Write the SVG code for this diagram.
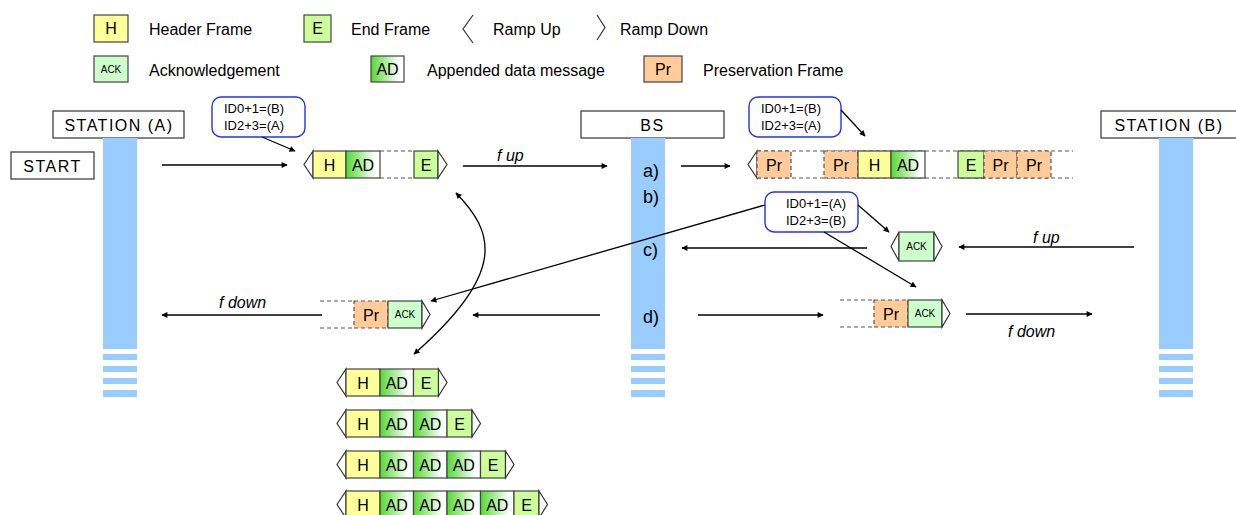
<svg xmlns="http://www.w3.org/2000/svg" width="1236" height="515" viewBox="0 0 1236 515">
<style>
text{font-family:"Liberation Sans",Arial,sans-serif;fill:#000}
.lg{font-size:16px}
.lbl{font-size:16px;text-anchor:middle}
.st{font-size:16px;text-anchor:middle;letter-spacing:1.5px}
.ct{font-size:16px;text-anchor:middle}
.ck{font-size:10px;text-anchor:middle}
.co{font-size:13px;font-family:Arial,"Liberation Sans",sans-serif}
.f{font-size:16px;font-style:italic}
.ab{font-size:18px}
.box{fill:#fff;stroke:#333;stroke-width:1.2}
.bar{fill:#99ccff}
.h{fill:#ffff99;stroke:#444;stroke-width:1.2}
.ad{fill:url(#adg);stroke:#444;stroke-width:1.2}
.e{fill:#ccff99;stroke:#444;stroke-width:1.2}
.ack{fill:#ccffcc;stroke:#444;stroke-width:1.2}
.pr{fill:#ffcc99;stroke:#555;stroke-width:1.2;stroke-dasharray:4 3}
.prl{fill:#ffcc99;stroke:#444;stroke-width:1.2}
.dl{fill:none;stroke:#555;stroke-width:1.2;stroke-dasharray:4 3}
.ramp{fill:#fff;stroke:#333;stroke-width:1.2}
.rl{fill:none;stroke:#333;stroke-width:1.2}
.cb{fill:#fff;stroke:#2233ee;stroke-width:1.4}
.cn{fill:none;stroke:#000;stroke-width:1.3;marker-end:url(#ah)}
</style>
<defs>
<linearGradient id="adg" x1="0" y1="0" x2="1" y2="0">
<stop offset="0" stop-color="#55d833"/>
<stop offset="0.85" stop-color="#ffffff"/>
</linearGradient>
<marker id="ah" viewBox="0 0 10 10" refX="9" refY="5" markerWidth="7" markerHeight="6" orient="auto" markerUnits="userSpaceOnUse">
<path d="M0,0 L10,5 L0,10 z" fill="#000"/>
</marker>
<marker id="as" viewBox="0 0 10 10" refX="1" refY="5" markerWidth="7" markerHeight="6" orient="auto" markerUnits="userSpaceOnUse">
<path d="M10,0 L0,5 L10,10 z" fill="#000"/>
</marker>
</defs>

<g id="legend">
<rect class="h" x="94" y="15" width="34" height="27"/><text class="ct" x="111" y="34">H</text>
<text class="lg" x="149" y="35">Header Frame</text>
<rect class="e" x="304" y="15" width="27" height="27"/><text class="ct" x="317.5" y="34">E</text>
<text class="lg" x="351" y="35">End Frame</text>
<polyline class="rl" points="473,15 463,29 473,43"/>
<text class="lg" x="493" y="35">Ramp Up</text>
<polyline class="rl" points="597,15 605,27.5 597,40"/>
<text class="lg" x="620" y="35">Ramp Down</text>
<rect class="ack" x="94" y="56" width="34" height="26"/><text class="ck" x="111" y="73">ACK</text>
<text class="lg" x="149" y="76">Acknowledgement</text>
<rect class="ad" x="371" y="56" width="33" height="26"/><text class="ct" x="387.5" y="75">AD</text>
<text class="lg" x="427" y="76">Appended data message</text>
<rect class="prl" x="644" y="56" width="38" height="26"/><text class="ct" x="663" y="75">Pr</text>
<text class="lg" x="703" y="76">Preservation Frame</text>
</g>

<g id="stationA">
<rect class="box" x="53" y="111" width="131" height="27"/>
<text class="st" x="119" y="131">STATION (A)</text>
<rect class="bar" x="103" y="138" width="34" height="211"/>
<rect class="bar" x="103" y="354" width="34" height="6"/>
<rect class="bar" x="103" y="366" width="34" height="6"/>
<rect class="bar" x="103" y="378" width="34" height="6"/>
<rect class="bar" x="103" y="390" width="34" height="7"/>
</g>
<g id="start">
<rect class="box" x="11" y="152" width="83" height="27"/>
<text class="st" x="52.5" y="172">START</text>
</g>
<g id="stationBS">
<rect class="box" x="581" y="111" width="143" height="27"/>
<text class="st" x="652.5" y="131">BS</text>
<rect class="bar" x="631" y="138" width="34" height="211"/>
<rect class="bar" x="631" y="354" width="34" height="6"/>
<rect class="bar" x="631" y="366" width="34" height="6"/>
<rect class="bar" x="631" y="378" width="34" height="6"/>
<rect class="bar" x="631" y="390" width="34" height="7"/>
<text class="ab" x="643" y="177">a)</text>
<text class="ab" x="643" y="203">b)</text>
<text class="ab" x="643" y="256">c)</text>
<text class="ab" x="643" y="323">d)</text>
</g>
<g id="stationB">
<rect class="box" x="1101" y="111" width="140" height="27"/>
<text class="st" x="1169" y="131">STATION (B)</text>
<rect class="bar" x="1159" y="138" width="34" height="211"/>
<rect class="bar" x="1159" y="354" width="34" height="6"/>
<rect class="bar" x="1159" y="366" width="34" height="6"/>
<rect class="bar" x="1159" y="378" width="34" height="6"/>
<rect class="bar" x="1159" y="390" width="34" height="7"/>
</g>

<g id="callout1">
<rect class="cb" x="212" y="97" width="93" height="40" rx="9"/>
<text class="co" x="224" y="113">ID0+1=(B)</text>
<text class="co" x="224" y="130">ID2+3=(A)</text>
</g>
<g id="callout2">
<rect class="cb" x="749" y="97" width="92" height="40" rx="9"/>
<text class="co" x="761" y="113">ID0+1=(B)</text>
<text class="co" x="761" y="130">ID2+3=(A)</text>
</g>

<g id="frame1">
<polygon class="ramp" points="313,151 304,164.5 313,178"/>
<rect class="h" x="313" y="151" width="33" height="27"/><text class="ct" x="329.5" y="171">H</text>
<rect class="ad" x="346" y="151" width="34" height="27"/><text class="ct" x="363" y="171">AD</text>
<line class="dl" x1="380" y1="151" x2="414" y2="151"/><line class="dl" x1="380" y1="178" x2="414" y2="178"/>
<rect class="e" x="414" y="151" width="24" height="27"/><text class="ct" x="426" y="171">E</text>
<polygon class="ramp" points="438,151 447,164.5 438,178"/>
</g>

<g id="frame2">
<line class="dl" x1="757" y1="151" x2="1073" y2="151"/><line class="dl" x1="757" y1="178" x2="1073" y2="178"/>
<polygon class="ramp" points="757,151 748,164.5 757,178"/>
<rect class="pr" x="757" y="151" width="34" height="27"/><text class="ct" x="774" y="171">Pr</text>
<rect class="pr" x="824" y="151" width="34" height="27"/><text class="ct" x="841" y="171">Pr</text>
<rect class="h" x="858" y="151" width="33" height="27"/><text class="ct" x="874.5" y="171">H</text>
<rect class="ad" x="891" y="151" width="34" height="27"/><text class="ct" x="908" y="171">AD</text>
<rect class="e" x="958" y="151" width="26" height="27"/><text class="ct" x="971" y="171">E</text>
<rect class="pr" x="984" y="151" width="33" height="27"/><text class="ct" x="1000.5" y="171">Pr</text>
<rect class="pr" x="1017" y="151" width="34" height="27"/><text class="ct" x="1034" y="171">Pr</text>
</g>

<g id="callout3">
<rect class="cb" x="765" y="192" width="93" height="40" rx="9"/>
<text class="co" x="786" y="208">ID0+1=(A)</text>
<text class="co" x="786" y="225">ID2+3=(B)</text>
</g>

<g id="frameAck">
<polygon class="ramp" points="899,232 891,246.5 899,261"/>
<rect class="ack" x="899" y="232" width="35" height="29"/><text class="ck" x="916.5" y="250">ACK</text>
<polygon class="ramp" points="934,232 942,246.5 934,261"/>
</g>

<g id="frameDownB">
<line class="dl" x1="840" y1="300" x2="874" y2="300"/><line class="dl" x1="840" y1="327" x2="874" y2="327"/>
<rect class="pr" x="874" y="300" width="34" height="27"/><text class="ct" x="891" y="320">Pr</text>
<rect class="ack" x="908" y="300" width="34" height="27"/><text class="ck" x="925" y="317">ACK</text>
<polygon class="ramp" points="942,300 950,313.5 942,327"/>
</g>

<g id="frameDownA">
<line class="dl" x1="320" y1="301" x2="354" y2="301"/><line class="dl" x1="320" y1="328" x2="354" y2="328"/>
<rect class="pr" x="354" y="301" width="34" height="27"/><text class="ct" x="371" y="321">Pr</text>
<rect class="ack" x="388" y="301" width="34" height="27"/><text class="ck" x="405" y="318">ACK</text>
<polygon class="ramp" points="422,301 430,314.5 422,328"/>
</g>

<g id="frameRow1">
<polygon class="ramp" points="346,369 337,382.5 346,396"/>
<rect class="h" x="346" y="369" width="34" height="27"/><text class="ct" x="363" y="389">H</text>
<rect class="ad" x="380" y="369" width="33.5" height="27"/><text class="ct" x="396.75" y="389">AD</text>
<rect class="e" x="413.5" y="369" width="25" height="27"/><text class="ct" x="426" y="389">E</text>
<polygon class="ramp" points="438.5,369 447,382.5 438.5,396"/>
</g>
<g id="frameRow2">
<polygon class="ramp" points="346,410 337,423.5 346,437"/>
<rect class="h" x="346" y="410" width="34" height="27"/><text class="ct" x="363" y="430">H</text>
<rect class="ad" x="380" y="410" width="33.5" height="27"/><text class="ct" x="396.75" y="430">AD</text>
<rect class="ad" x="413.5" y="410" width="33.5" height="27"/><text class="ct" x="430.25" y="430">AD</text>
<rect class="e" x="447" y="410" width="25" height="27"/><text class="ct" x="459.5" y="430">E</text>
<polygon class="ramp" points="472,410 480.5,423.5 472,437"/>
</g>
<g id="frameRow3">
<polygon class="ramp" points="346,451 337,464.5 346,478"/>
<rect class="h" x="346" y="451" width="34" height="27"/><text class="ct" x="363" y="471">H</text>
<rect class="ad" x="380" y="451" width="33.5" height="27"/><text class="ct" x="396.75" y="471">AD</text>
<rect class="ad" x="413.5" y="451" width="33.5" height="27"/><text class="ct" x="430.25" y="471">AD</text>
<rect class="ad" x="447" y="451" width="33.5" height="27"/><text class="ct" x="463.75" y="471">AD</text>
<rect class="e" x="480.5" y="451" width="25" height="27"/><text class="ct" x="493" y="471">E</text>
<polygon class="ramp" points="505.5,451 514,464.5 505.5,478"/>
</g>
<g id="frameRow4">
<polygon class="ramp" points="346,491 337,504.5 346,518"/>
<rect class="h" x="346" y="491" width="34" height="27"/><text class="ct" x="363" y="511">H</text>
<rect class="ad" x="380" y="491" width="33.5" height="27"/><text class="ct" x="396.75" y="511">AD</text>
<rect class="ad" x="413.5" y="491" width="33.5" height="27"/><text class="ct" x="430.25" y="511">AD</text>
<rect class="ad" x="447" y="491" width="33.5" height="27"/><text class="ct" x="463.75" y="511">AD</text>
<rect class="ad" x="480.5" y="491" width="33.5" height="27"/><text class="ct" x="497.25" y="511">AD</text>
<rect class="e" x="514" y="491" width="25" height="27"/><text class="ct" x="526.5" y="511">E</text>
<polygon class="ramp" points="539,491 547.5,504.5 539,518"/>
</g>

<g id="connectors">
<line class="cn" x1="162" y1="165" x2="287" y2="165"/>
<line class="cn" x1="262" y1="137" x2="295" y2="151"/>
<line class="cn" x1="463" y1="166" x2="607" y2="166"/>
<text class="f" x="497" y="161">f up</text>
<line class="cn" x1="681" y1="166" x2="730" y2="166"/>
<line class="cn" x1="841" y1="110" x2="865" y2="136"/>
<line class="cn" x1="765" y1="205" x2="431" y2="301"/>
<line class="cn" x1="858" y1="205" x2="889" y2="232"/>
<line class="cn" x1="824" y1="232" x2="916" y2="287"/>
<line class="cn" x1="867" y1="248" x2="682" y2="248"/>
<line class="cn" x1="1134" y1="247" x2="959" y2="247"/>
<text class="f" x="1033" y="243">f up</text>
<line class="cn" x1="600" y1="315" x2="473" y2="315"/>
<line class="cn" x1="322" y1="315" x2="162" y2="315"/>
<text class="f" x="219" y="308">f down</text>
<line class="cn" x1="698" y1="315" x2="823" y2="315"/>
<line class="cn" x1="966" y1="314" x2="1092" y2="314"/>
<text class="f" x="1008" y="337">f down</text>
<path class="cn" d="M456,193 C494,232 508,272 414,354" marker-start="url(#as)"/>
</g>
</svg>
